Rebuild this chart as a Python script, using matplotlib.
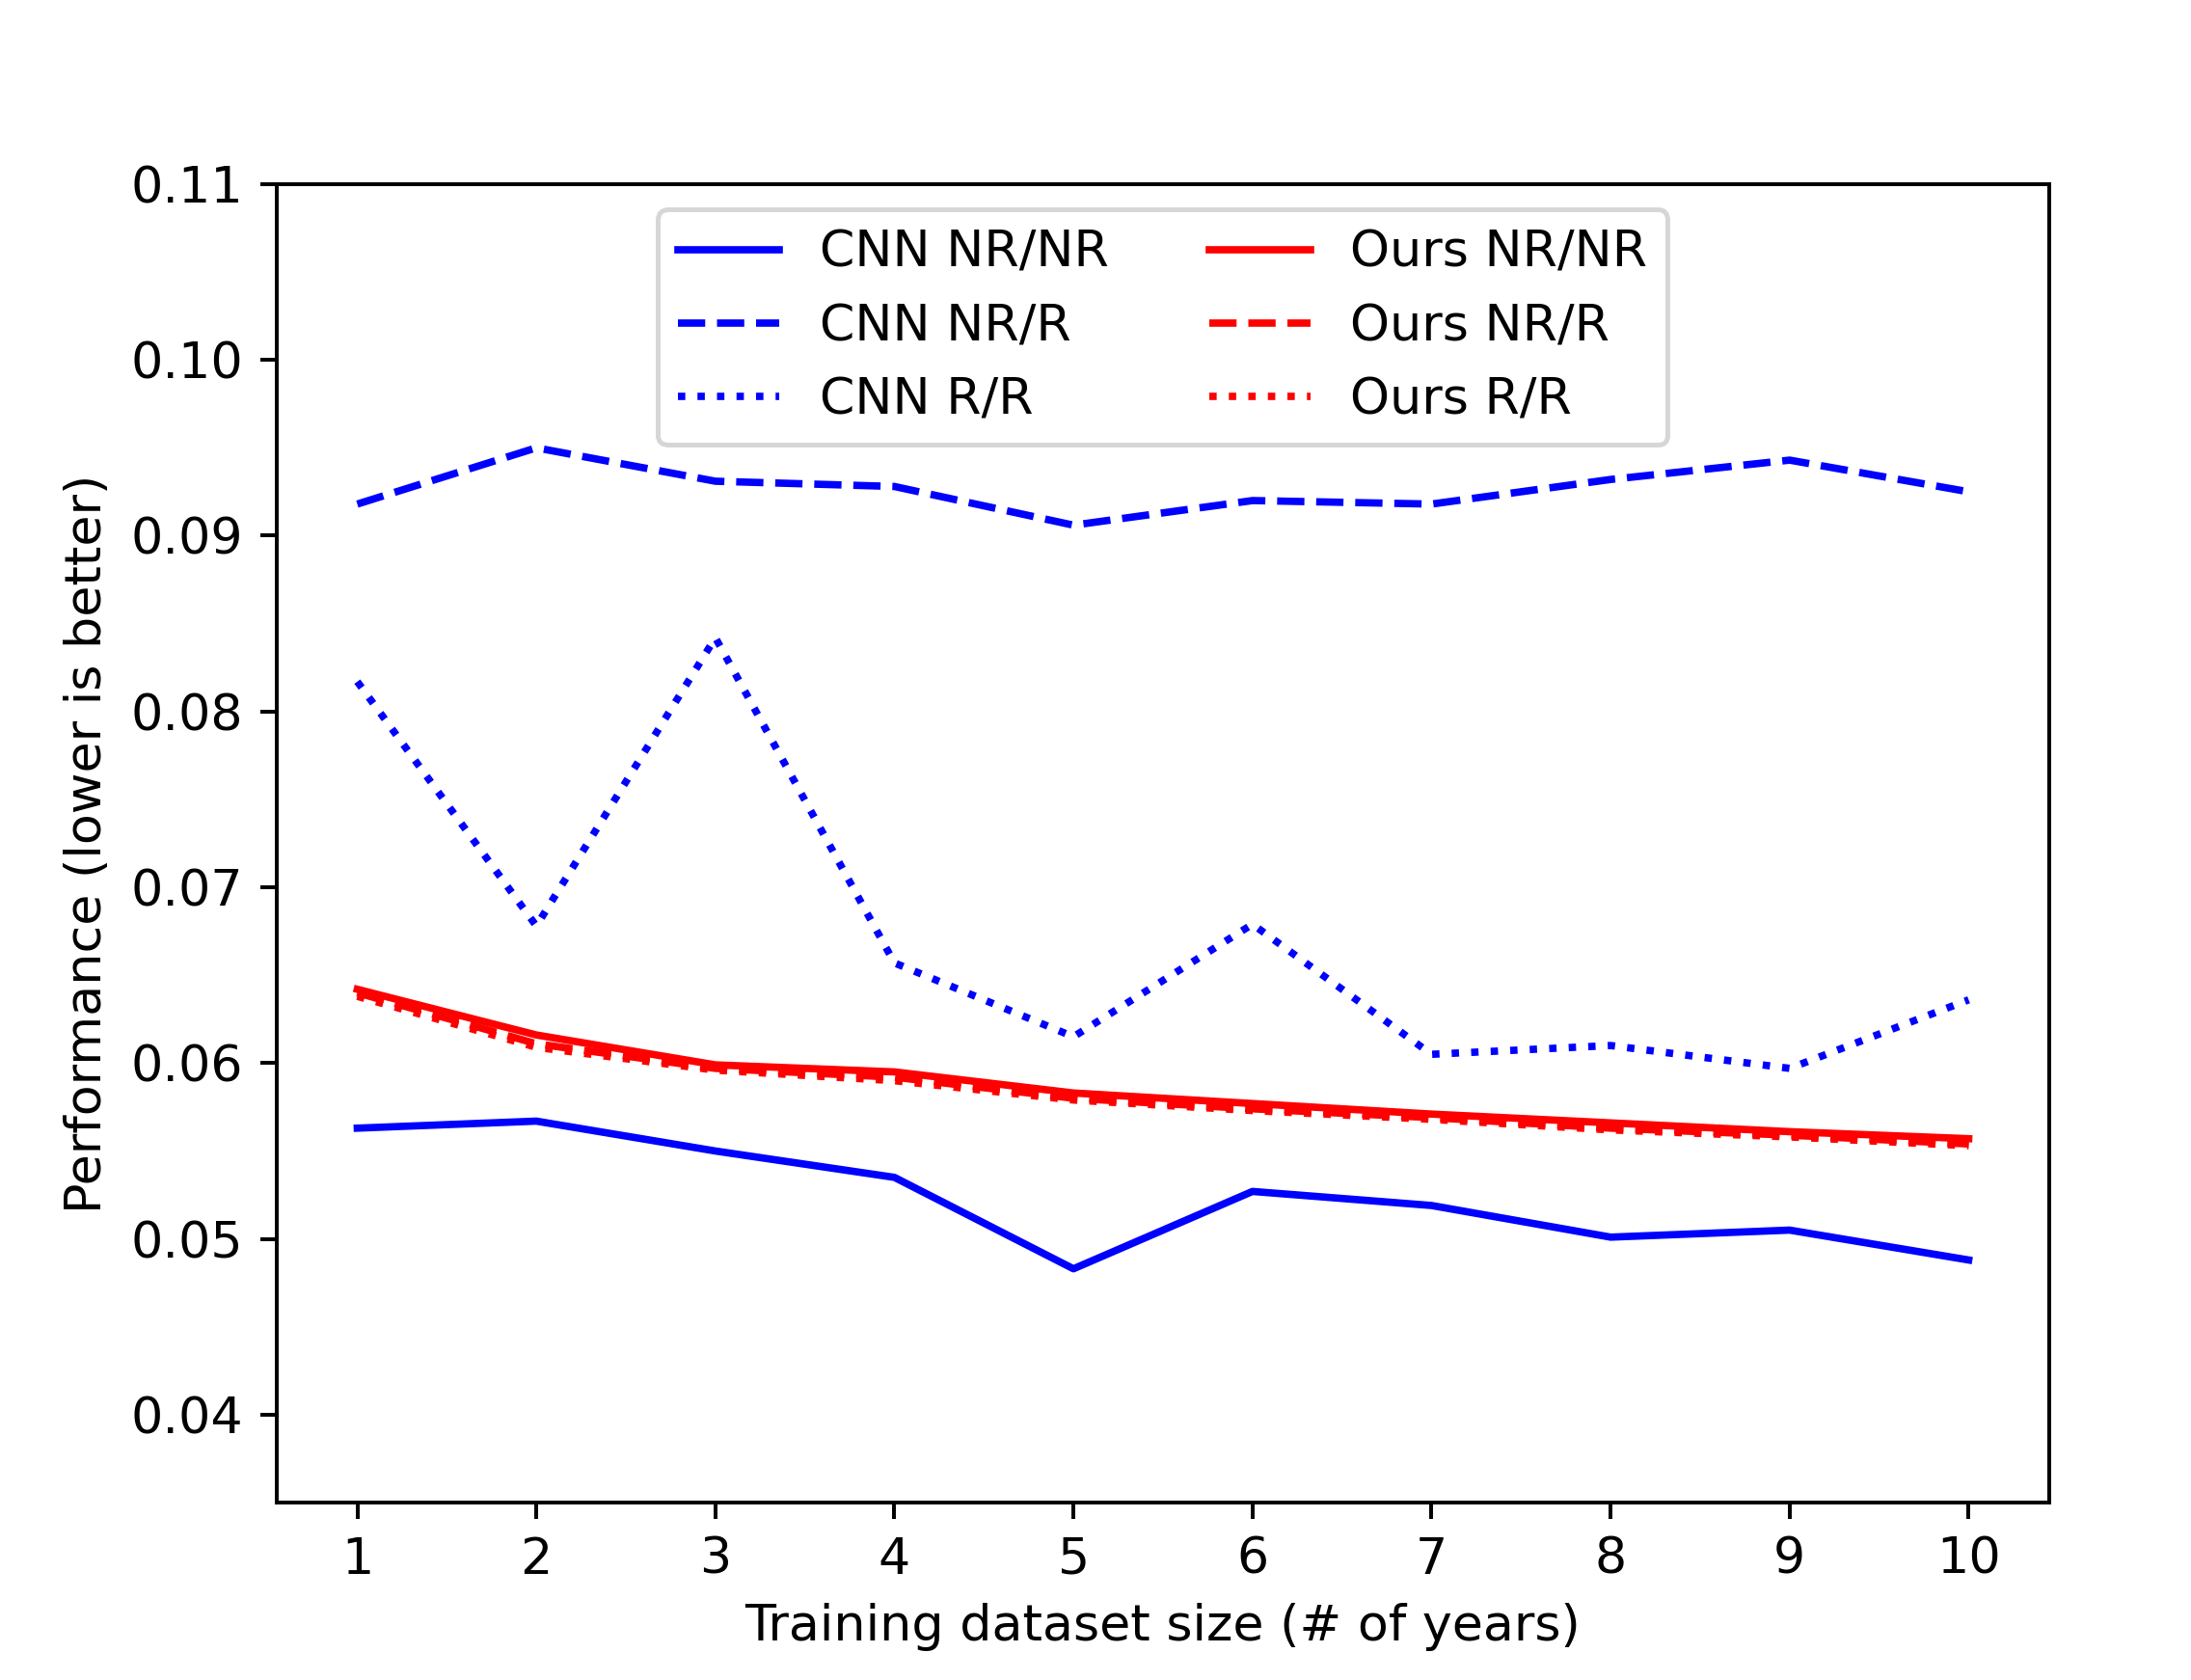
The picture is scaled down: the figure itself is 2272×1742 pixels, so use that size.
#!/usr/bin/env python3

"""Performance vs. training dataset size for CNN and our model."""

import matplotlib
matplotlib.use("Agg")
import matplotlib.pyplot as plt

years = [1, 2, 3, 4, 5, 6, 7, 8, 9, 10]

cnn_nr_nr = [0.0563, 0.0567, 0.0550, 0.0535, 0.0483, 0.0527, 0.0519, 0.0501, 0.0505, 0.0488]
cnn_nr_r = [0.0918, 0.0950, 0.0931, 0.0928, 0.0906, 0.0920, 0.0918, 0.0932, 0.0943, 0.0925]
cnn_r_r = [0.0817, 0.0678, 0.0842, 0.0657, 0.0615, 0.0679, 0.0605, 0.0610, 0.0597, 0.0636]

ours_nr_nr = [0.0642, 0.0616, 0.0599, 0.0595, 0.0583, 0.0577, 0.0571, 0.0566, 0.0561, 0.0557]
ours_nr_r = [0.0640, 0.0611, 0.0597, 0.0592, 0.0580, 0.0574, 0.0569, 0.0563, 0.0559, 0.0554]
ours_r_r = [0.0638, 0.0609, 0.0596, 0.0590, 0.0579, 0.0573, 0.0568, 0.0562, 0.0558, 0.0553]

yticks = [0.04, 0.05, 0.06, 0.07, 0.08, 0.09, 0.10, 0.11]


def main():
    plt.rcParams.update({
        "font.size": 10.6,
        "lines.linewidth": 1.55,
    })

    dpi = 355
    fig = plt.figure(figsize=(2272 / dpi, 1742 / dpi), dpi=dpi)
    ax = fig.add_axes([0.1263, 0.1056, 0.8090, 0.7848])

    ax.plot(years, cnn_nr_nr, "-", color="blue", label="CNN NR/NR")
    ax.plot(years, cnn_nr_r, "--", color="blue", label="CNN NR/R")
    ax.plot(years, cnn_r_r, ":", color="blue", label="CNN R/R")
    ax.plot(years, ours_nr_nr, "-", color="red", label="Ours NR/NR")
    ax.plot(years, ours_nr_r, "--", color="red", label="Ours NR/R")
    ax.plot(years, ours_r_r, ":", color="red", label="Ours R/R")

    ax.set_xticks(years)
    ax.set_yticks(yticks)
    ax.set_ylim(0.035, 0.11)
    ax.set_xlabel("Training dataset size (# of years)")
    ax.set_ylabel("Performance (lower is better)")
    ax.legend(loc="upper center", ncol=2)

    plt.savefig("out.png", dpi=dpi)
    plt.close(fig)


if __name__ == "__main__":
    main()
